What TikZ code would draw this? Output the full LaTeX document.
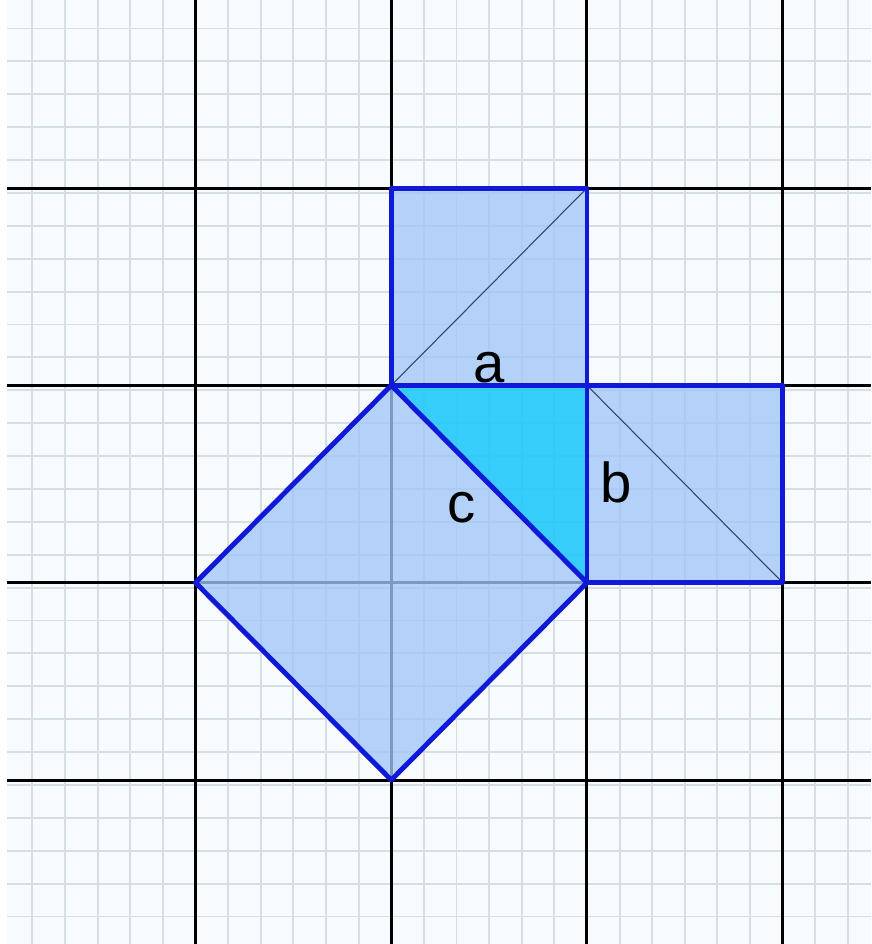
\documentclass[tikz,border=0pt]{standalone}
\usepackage{fontspec}
\setmainfont{Liberation Sans}
\usepackage{xcolor}

\definecolor{paper}{RGB}{247,251,253}
\definecolor{minorgrid}{RGB}{214,221,228}
\definecolor{sqfill}{RGB}{160,198,248}
\definecolor{sqedge}{RGB}{15,25,215}
\definecolor{trifill}{RGB}{35,200,250}
\definecolor{diag}{RGB}{55,65,95}

\begin{document}
\begin{tikzpicture}[x=3.914cm,y=3.946cm,
  minorline/.style={minorgrid, line width=1.1pt},
  majorline/.style={black, line width=1.7pt},
  square/.style={fill=sqfill, fill opacity=0.78},
  sqborder/.style={sqedge, line width=2.8pt, line join=round},
  diagline/.style={diag, line width=0.6pt},
  lbl/.style={font=\fontsize{32}{38}\selectfont, inner sep=0pt, anchor=base}]
\useasboundingbox[fill=white] (-1.999,-1.831) rectangle (2.452,2.953);
\fill[paper] (-1.963,-1.831) rectangle (2.452,2.953);

% graph paper
\foreach \k in {-11,...,14}
{	\draw[minorline] ({\k/6},-1.831) -- ({\k/6},2.953);
}
\foreach \j in {-10,...,17}
{	\draw[minorline] (-1.963,{\j/6-0.025}) -- (2.452,{\j/6-0.025});
}
\draw[majorline] (-1.963,-1.831) grid[step=1] (2.452,2.953);

% squares on the three sides
\fill[square] (0,1)--(1,1)--(1,2)--(0,2)--cycle;
\fill[square] (1,0)--(2,0)--(2,1)--(1,1)--cycle;
\fill[square] (0,1)--(1,0)--(0,-1)--(-1,0)--cycle;
\draw[diagline] (0,1)--(1,2);
\draw[diagline] (1,1)--(2,0);

% the right triangle
\fill[trifill, fill opacity=0.9] (0,1)--(1,1)--(1,0)--cycle;

% outlines
\draw[sqborder] (0,1)--(1,1)--(1,2)--(0,2)--cycle;
\draw[sqborder] (1,0)--(2,0)--(2,1)--(1,1)--cycle;
\draw[sqborder] (0,1)--(1,0)--(0,-1)--(-1,0)--cycle;

% side names
\node[lbl] (sidea) at (0.5,1.017) {a};
\node[lbl] (sideb) at (1.149,0.404) {b};
\node[lbl] (sidec) at (0.361,0.303) {c};
\end{tikzpicture}
\end{document}
